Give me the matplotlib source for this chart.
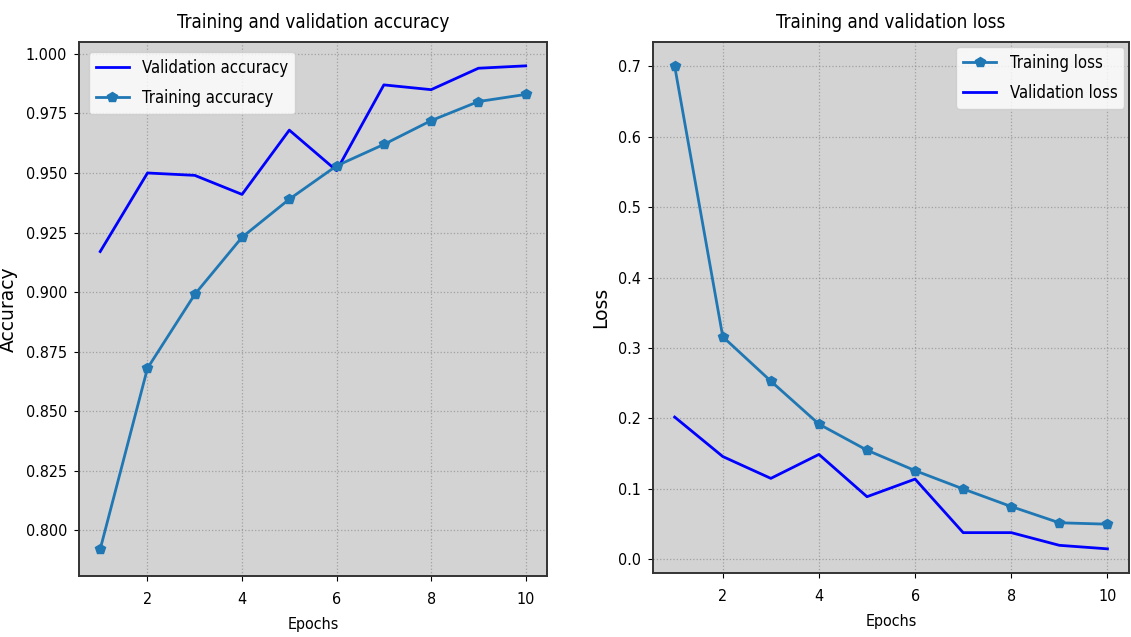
import numpy as np
import matplotlib
matplotlib.use("Agg")
import matplotlib.pyplot as plt

# =========================================
# DATA
# =========================================

epochs = [1, 2, 3, 4, 5, 6, 7, 8, 9, 10]

train_acc = [0.792, 0.868, 0.899, 0.923, 0.939, 0.953, 0.962, 0.972, 0.980, 0.983]
val_acc = [0.917, 0.950, 0.949, 0.941, 0.968, 0.951, 0.987, 0.985, 0.994, 0.995]

train_loss = [0.700, 0.316, 0.253, 0.192, 0.155, 0.126, 0.100, 0.075, 0.052, 0.050]
val_loss = [0.202, 0.146, 0.115, 0.149, 0.089, 0.114, 0.038, 0.038, 0.020, 0.015]

# =========================================
# PLOT
# =========================================

plt.rcParams["font.family"] = ["DejaVu Sans"]
plt.rcParams["font.stretch"] = "condensed"

fig = plt.figure(figsize=(11.31, 6.37), dpi=100)
ax1 = fig.add_axes([0.0698, 0.0957, 0.4138, 0.8383])
ax2 = fig.add_axes([0.5774, 0.1005, 0.4209, 0.8336])

for ax in (ax1, ax2):
    ax.set_facecolor("lightgray")
    ax.grid(True, linestyle=":", color="gray", alpha=0.6, linewidth=0.9)
    ax.set_axisbelow(True)
    for s in ax.spines.values():
        s.set_linewidth(1.4)
        s.set_color("#333333")
    ax.tick_params(labelsize=11.5, pad=5)
    ax.tick_params(axis="x", pad=8)

# accuracy
ax1.plot(epochs, val_acc, color="blue", linewidth=2, label="Validation accuracy")
ax1.plot(epochs, train_acc, color="tab:blue", marker="p", markersize=7,
         linewidth=2, label="Training accuracy")
ax1.set_ylim(0.7807, 1.005)
ax1.set_yticks(np.arange(0.800, 1.001, 0.025))
ax1.set_title("Training and validation accuracy", fontsize=13.5, pad=10)
ax1.set_xlabel("Epochs", fontsize=11.5, labelpad=7)
ax1.set_ylabel("Accuracy", fontsize=13.5, fontstretch="normal", labelpad=6)
ax1.legend(loc="upper left", fontsize=12, labelspacing=0.75,
           borderaxespad=0.6)

# loss
ax2.plot(epochs, train_loss, color="tab:blue", marker="p", markersize=7,
         linewidth=2, label="Training loss")
ax2.plot(epochs, val_loss, color="blue", linewidth=2, label="Validation loss")
ax2.set_title("Training and validation loss", fontsize=13.5, pad=10)
ax2.set_xlabel("Epochs", fontsize=11.5, labelpad=7)
ax2.set_ylabel("Loss", fontsize=13.5, fontstretch="normal", labelpad=6)
ax2.legend(loc="upper right", fontsize=12, labelspacing=0.75,
           borderaxespad=0.3)

fig.savefig("out.png", dpi=100)
